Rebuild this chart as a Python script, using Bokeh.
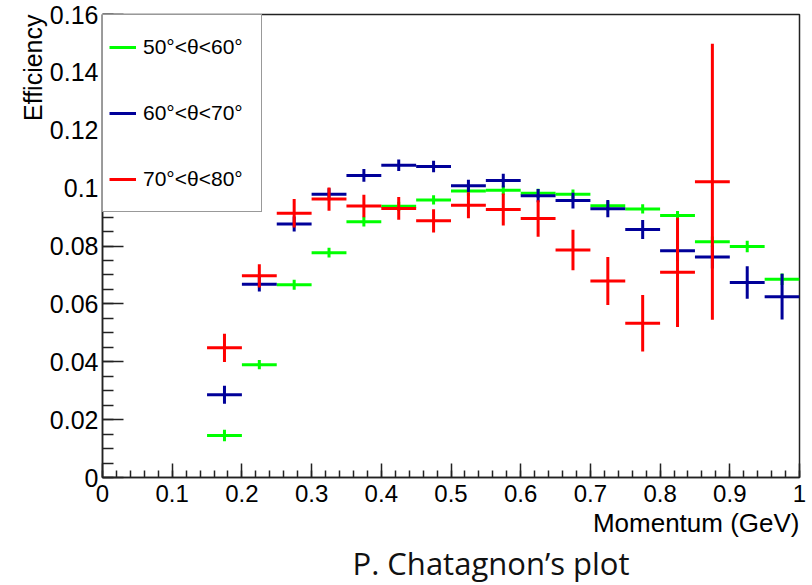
import numpy as np
from bokeh.plotting import figure
from bokeh.models import (ColumnDataSource, FixedTicker, Title, Legend, LegendItem, Range1d)
from bokeh.embed import file_html
from bokeh.resources import INLINE

# ---- data -------------------------------------------------------------
bin_width = 0.05
momentum = [0.175, 0.225, 0.275, 0.325, 0.375, 0.425, 0.475, 0.525, 0.575,
            0.625, 0.675, 0.725, 0.775, 0.825, 0.875, 0.925, 0.975]

eff_50_60 = [0.0145, 0.0390, 0.0666, 0.0777, 0.0884, 0.0937, 0.0959, 0.0990, 0.0993,
             0.0982, 0.0979, 0.0939, 0.0928, 0.0905, 0.0815, 0.0798, 0.0685]
err_50_60 = [0.0020, 0.0016, 0.0017, 0.0017, 0.0017, 0.0016, 0.0016, 0.0016, 0.0016,
             0.0016, 0.0016, 0.0016, 0.0016, 0.0016, 0.0018, 0.0020, 0.0020]

eff_60_70 = [0.0286, 0.0668, 0.0876, 0.0979, 0.1044, 0.1079, 0.1075, 0.1008, 0.1026,
             0.0974, 0.0957, 0.0929, 0.0857, 0.0784, 0.0762, 0.0674, 0.0625]
err_60_70 = [0.0031, 0.0025, 0.0026, 0.0021, 0.0022, 0.0020, 0.0020, 0.0021, 0.0024,
             0.0023, 0.0027, 0.0030, 0.0033, 0.0037, 0.0040, 0.0056, 0.0079]

mom_70_80 = [0.175, 0.225, 0.275, 0.325, 0.375, 0.425, 0.475, 0.525, 0.575,
             0.625, 0.675, 0.725, 0.775, 0.825, 0.875]
eff_70_80 = [0.0448, 0.0697, 0.0913, 0.0962, 0.0938, 0.0930, 0.0887, 0.0941, 0.0926,
             0.0895, 0.0786, 0.0679, 0.0533, 0.0709, 0.1022]
err_70_80 = [0.0049, 0.0040, 0.0049, 0.0040, 0.0039, 0.0039, 0.0040, 0.0045, 0.0055,
             0.0063, 0.0070, 0.0083, 0.0098, 0.0189, 0.0477]

series_names = ["50°<θ<60°", "60°<θ<70°", "70°<θ<80°"]
series_colors = ["#00ff00", "#000099", "#ff0000"]

x_ticks = [0.0, 0.1, 0.2, 0.3, 0.4, 0.5, 0.6, 0.7, 0.8, 0.9, 1.0]
x_tick_labels = ["0", "0.1", "0.2", "0.3", "0.4", "0.5", "0.6", "0.7", "0.8", "0.9", "1"]
y_ticks = [0.0, 0.02, 0.04, 0.06, 0.08, 0.1, 0.12, 0.14, 0.16]
y_tick_labels = ["0", "0.02", "0.04", "0.06", "0.08", "0.1", "0.12", "0.14", "0.16"]

x_title = "Momentum (GeV)"
y_title = "Efficiency"
caption = "P. Chatagnon’s plot"

# ---- figure -----------------------------------------------------------
FONT = "Liberation Sans"
p = figure(width=812, height=585, output_backend="svg", toolbar_location=None,
           x_range=Range1d(0, 1), y_range=Range1d(0, 0.16),
           min_border_left=102, min_border_right=13, min_border_top=14,
           min_border_bottom=107)
p.background_fill_color = "white"
p.border_fill_color = "white"
p.outline_line_color = "#222222"
p.outline_line_width = 1.5
p.xgrid.visible = False
p.ygrid.visible = False

minor_x = [round(v, 3) for v in np.arange(0, 1.0001, 0.02)]
minor_y = [round(v, 4) for v in np.arange(0, 0.16001, 0.005)]
p.xaxis.ticker = FixedTicker(ticks=x_ticks, minor_ticks=minor_x)
p.yaxis.ticker = FixedTicker(ticks=y_ticks, minor_ticks=minor_y)
p.xaxis.major_label_overrides = dict(zip(x_ticks, x_tick_labels))
p.yaxis.major_label_overrides = dict(zip(y_ticks, y_tick_labels))

for ax in (p.xaxis[0], p.yaxis[0]):
    ax.axis_line_color = "#222222"
    ax.axis_line_width = 1.5
    ax.major_tick_line_color = "#222222"
    ax.minor_tick_line_color = "#222222"
    ax.major_tick_line_width = 1.5
    ax.minor_tick_line_width = 1.5
    ax.major_tick_out = 0
    ax.minor_tick_out = 0
    ax.major_label_text_font = FONT
    ax.major_label_text_color = "black"
    ax.major_label_text_font_style = "normal"

p.xaxis.major_tick_in = 14
p.xaxis.minor_tick_in = 7
p.yaxis.major_tick_in = 21
p.yaxis.minor_tick_in = 11
p.xaxis.major_label_text_font_size = "24px"
p.yaxis.major_label_text_font_size = "25px"
p.xaxis.major_label_standoff = 7
p.yaxis.major_label_standoff = 4

# ---- error-bar crosses -------------------------------------------------
all_series = [
    (momentum, eff_50_60, err_50_60),
    (momentum, eff_60_70, err_60_70),
    (mom_70_80, eff_70_80, err_70_80),
]
items = []
for (xs, ys, es), name, col in zip(all_series, series_names, series_colors):
    xs = np.array(xs); ys = np.array(ys); es = np.array(es)
    src = ColumnDataSource(dict(
        x0=xs - bin_width / 2, x1=xs + bin_width / 2, y=ys,
        xc=xs, ylo=ys - es, yhi=ys + es))
    r1 = p.segment(x0="x0", y0="y", x1="x1", y1="y", source=src,
                   line_color=col, line_width=3, line_cap="butt")
    r2 = p.segment(x0="xc", y0="ylo", x1="xc", y1="yhi", source=src,
                   line_color=col, line_width=3, line_cap="butt")
    items.append(LegendItem(label=name, renderers=[r1]))

legend = Legend(items=items, location="top_left", margin=0, padding=6,
                spacing=14, glyph_width=27, glyph_height=52, label_height=52,
                label_width=112, label_standoff=7,
                label_text_font=FONT, label_text_font_size="21px",
                label_text_color="black",
                border_line_color="#333333", border_line_width=1.5,
                background_fill_color="white", background_fill_alpha=1.0)
p.add_layout(legend)

# ---- titles (in side panels so they are not clipped) -------------------
p.add_layout(Title(text=x_title, align="right", text_font=FONT,
                   text_font_size="26px", text_font_style="normal",
                   text_color="black", standoff=2, offset=0), "below")
p.add_layout(Title(text=caption, align="left", text_font="Open Sans",
                   text_font_size="31px", text_font_style="normal",
                   text_color="#111111", standoff=3, offset=250), "below")
p.add_layout(Title(text=y_title, align="right", text_font=FONT,
                   text_font_size="25px", text_font_style="normal",
                   text_color="black", standoff=0, offset=0), "left")

open("out.html", "w").write(file_html(p, INLINE))
